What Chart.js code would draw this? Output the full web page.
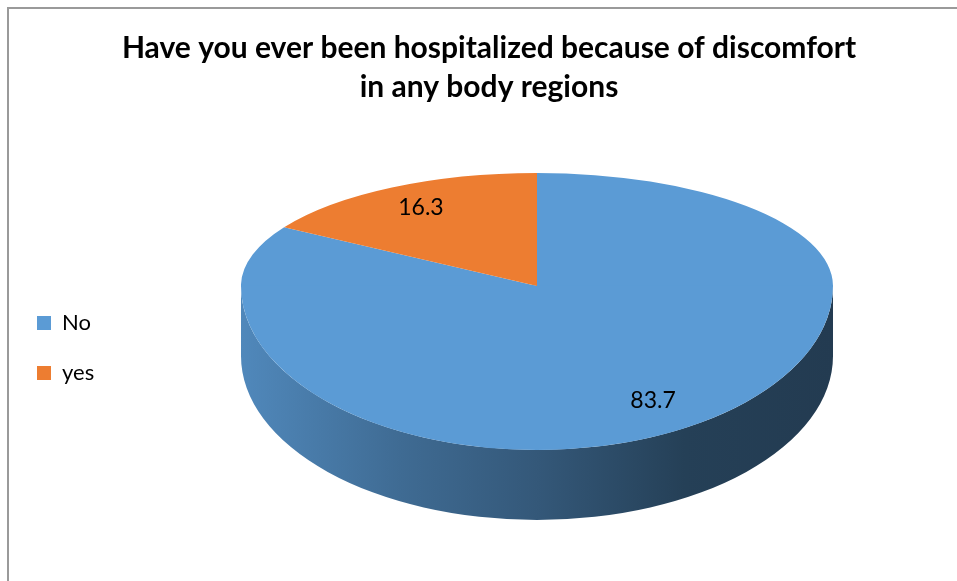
<!DOCTYPE html>
<html>
<head>
<meta charset="utf-8">
<script src="https://cdn.jsdelivr.net/npm/chart.js@4.4.1/dist/chart.umd.min.js"></script>
<style>
  html, body { margin: 0; padding: 0; background: #fff; overflow: hidden; }
  #frame { position: absolute; left: 7px; top: 7px; border-left: 2px solid #9a9a9a; border-top: 2px solid #9a9a9a; }
  canvas { display: block; }
</style>
</head>
<body>
<div id="frame"><canvas id="myChart" width="960" height="580"></canvas></div>
<script>
const categories = ['No', 'yes'];
const percents = [83.7, 16.3];
const sliceColors = ['#5B9BD5', '#ED7D31'];
const titleLines = ['Have you ever been hospitalized because of discomfort', 'in any body regions'];

function shade(hex, f) {
    const n = parseInt(hex.slice(1), 16);
    const r = Math.round(((n >> 16) & 255) * f);
    const g = Math.round(((n >> 8) & 255) * f);
    const b = Math.round((n & 255) * f);
    return `rgb(${r}, ${g}, ${b})`;
}

// Tilted disc: the far half is flatter than the near half (fake perspective),
// and a wall hangs under the near edge.
const tiltedPie = {
    id: 'tiltedPie',
    beforeDatasetsDraw(chart, args, opts) {
        const ctx = chart.ctx;
        const meta = chart.getDatasetMeta(0);
        const first = meta.data[0];
        const R = first.outerRadius;
        const {cx, cy, rx, ryBack, ryFront, depth} = opts;

        // wall: only angles 0..PI (the near half) show
        meta.data.forEach((arc, i) => {
            [0, 2 * Math.PI].forEach(base => {
                const a0 = Math.max(arc.startAngle, base);
                const a1 = Math.min(arc.endAngle, base + Math.PI);
                if (a1 <= a0) return;
                const color = sliceColors[i];
                const grad = ctx.createLinearGradient(cx - rx, 0, cx + rx, 0);
                grad.addColorStop(0, shade(color, 0.88));
                grad.addColorStop(0.27, shade(color, 0.69));
                grad.addColorStop(0.5, shade(color, 0.57));
                grad.addColorStop(0.75, shade(color, 0.41));
                grad.addColorStop(1, shade(color, 0.38));
                ctx.beginPath();
                ctx.ellipse(cx, cy, rx, ryFront, 0, a0, a1);
                ctx.ellipse(cx, cy + depth, rx, ryFront, 0, a1, a0, true);
                ctx.closePath();
                ctx.fillStyle = grad;
                ctx.fill();
            });
        });

        // top face, far half then near half, each with its own squash
        const halves = [
            {top: 0, bottom: cy + 0.5, ry: ryBack},
            {top: cy - 0.5, bottom: chart.height, ry: ryFront}
        ];
        halves.forEach(h => {
            ctx.save();
            ctx.beginPath();
            ctx.rect(0, h.top, chart.width, h.bottom - h.top);
            ctx.clip();
            ctx.translate(cx, cy);
            ctx.scale(rx / R, h.ry / R);
            ctx.translate(-first.x, -first.y);
            meta.data.forEach(arc => arc.draw(ctx, chart.chartArea));
            ctx.restore();
        });

        // value labels
        ctx.save();
        ctx.font = '23px Lato';
        ctx.fillStyle = '#000';
        ctx.textAlign = 'center';
        ctx.textBaseline = 'middle';
        meta.data.forEach((arc, i) => {
            const mid = (arc.startAngle + arc.endAngle) / 2;
            const s = Math.sin(mid);
            const x = cx + rx * opts.labelAt * Math.cos(mid);
            const y = cy + (s < 0 ? ryBack : ryFront) * opts.labelAt * s;
            ctx.fillText(percents[i].toFixed(1), x, y);
        });
        ctx.restore();
        return false;
    }
};

const ctx = document.getElementById('myChart').getContext('2d');
const myChart = new Chart(ctx, {
    type: 'pie',
    data: {
        labels: categories,
        datasets: [{
            data: percents,
            backgroundColor: sliceColors,
            borderWidth: 0
        }]
    },
    plugins: [tiltedPie],
    options: {
        responsive: false,
        animation: false,
        events: [],
        layout: { padding: { left: 0, right: 0, top: 0, bottom: 20 } },
        plugins: {
            tiltedPie: { cx: 528, cy: 277, rx: 296, ryBack: 113, ryFront: 164, depth: 70, labelAt: 0.8 },
            title: {
                display: true,
                text: titleLines,
                color: '#000',
                font: { family: 'Lato', size: 30, weight: 'bold', lineHeight: 1.3 },
                padding: { top: 20, bottom: 10 }
            },
            legend: {
                position: 'left',
                title: {
                    display: true,
                    text: '',
                    font: { size: 10, lineHeight: 1 },
                    padding: { top: 108, bottom: 0 }
                },
                labels: {
                    boxWidth: 14,
                    boxHeight: 14,
                    padding: 28,
                    color: '#000',
                    font: { family: 'Lato', size: 22 }
                }
            },
            tooltip: { enabled: false }
        }
    }
});
</script>
</body>
</html>
